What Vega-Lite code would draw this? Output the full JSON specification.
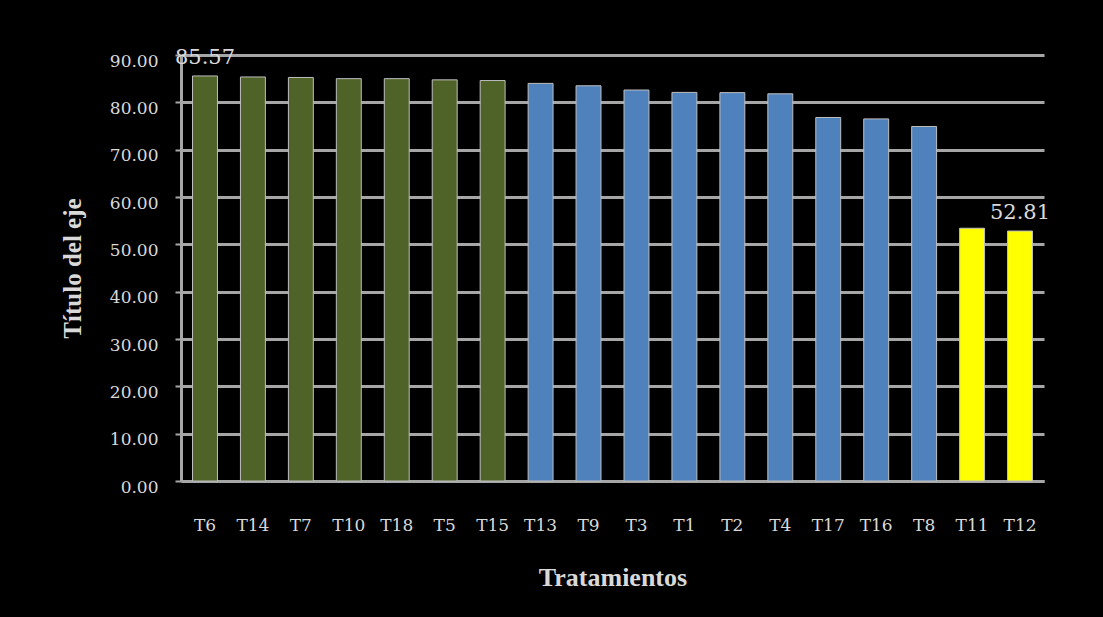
{
  "$schema": "https://vega.github.io/schema/vega-lite/v6.json",
  "autosize": {"type": "none"},
  "width": 863,
  "height": 426,
  "padding": {"left": 181, "top": 55, "right": 59, "bottom": 136},
  "background": "black",
  "config": {
    "view": {"stroke": null},
    "font": "DejaVu Serif"
  },
  "data": {
    "values": [
      {"tratamiento": "T6", "valor": 85.57, "grupo": "a", "etiqueta": "85.57"},
      {"tratamiento": "T14", "valor": 85.36, "grupo": "a", "etiqueta": ""},
      {"tratamiento": "T7", "valor": 85.25, "grupo": "a", "etiqueta": ""},
      {"tratamiento": "T10", "valor": 85.0, "grupo": "a", "etiqueta": ""},
      {"tratamiento": "T18", "valor": 85.0, "grupo": "a", "etiqueta": ""},
      {"tratamiento": "T5", "valor": 84.75, "grupo": "a", "etiqueta": ""},
      {"tratamiento": "T15", "valor": 84.6, "grupo": "a", "etiqueta": ""},
      {"tratamiento": "T13", "valor": 84.0, "grupo": "b", "etiqueta": ""},
      {"tratamiento": "T9", "valor": 83.5, "grupo": "b", "etiqueta": ""},
      {"tratamiento": "T3", "valor": 82.6, "grupo": "b", "etiqueta": ""},
      {"tratamiento": "T1", "valor": 82.1, "grupo": "b", "etiqueta": ""},
      {"tratamiento": "T2", "valor": 82.05, "grupo": "b", "etiqueta": ""},
      {"tratamiento": "T4", "valor": 81.8, "grupo": "b", "etiqueta": ""},
      {"tratamiento": "T17", "valor": 76.8, "grupo": "b", "etiqueta": ""},
      {"tratamiento": "T16", "valor": 76.5, "grupo": "b", "etiqueta": ""},
      {"tratamiento": "T8", "valor": 74.9, "grupo": "b", "etiqueta": ""},
      {"tratamiento": "T11", "valor": 53.4, "grupo": "c", "etiqueta": ""},
      {"tratamiento": "T12", "valor": 52.81, "grupo": "c", "etiqueta": "52.81"}
    ]
  },
  "encoding": {
    "x": {
      "field": "tratamiento",
      "type": "nominal",
      "sort": null,
      "scale": {"paddingInner": 0.48, "paddingOuter": 0.24},
      "axis": {
        "title": "Tratamientos",
        "titleFont": "Liberation Serif",
        "titleFontSize": 26,
        "titleFontWeight": "bold",
        "titleColor": "#d9d9d9",
        "titlePadding": 31,
        "labelFont": "DejaVu Serif",
        "labelFontSize": 17,
        "labelColor": "#d9d9d9",
        "labelAngle": 0,
        "labelPadding": 36,
        "ticks": false,
        "domainColor": "#a6a6a6",
        "domainWidth": 3,
        "grid": false
      }
    },
    "y": {
      "field": "valor",
      "type": "quantitative",
      "scale": {"domain": [0, 90], "nice": false},
      "axis": {
        "title": "Título del eje",
        "titleFont": "Liberation Serif",
        "titleFontSize": 25,
        "titleFontWeight": "bold",
        "titleColor": "#d9d9d9",
        "titlePadding": 24,
        "values": [0, 10, 20, 30, 40, 50, 60, 70, 80, 90],
        "format": ".2f",
        "labelFont": "DejaVu Serif",
        "labelFontSize": 17,
        "labelColor": "#d9d9d9",
        "labelPadding": 17,
        "labelOffset": 6,
        "tickColor": "#a6a6a6",
        "tickSize": 6,
        "tickWidth": 2,
        "domainColor": "#a6a6a6",
        "domainWidth": 3,
        "gridColor": "#a6a6a6",
        "gridWidth": 3
      }
    }
  },
  "layer": [
    {
      "mark": {"type": "bar", "stroke": "#bfbfbf", "strokeWidth": 1},
      "encoding": {
        "color": {
          "field": "grupo",
          "type": "nominal",
          "scale": {"domain": ["a", "b", "c"], "range": ["#4f6228", "#4f81bd", "#ffff00"]},
          "legend": null
        }
      }
    },
    {
      "mark": {"type": "text", "baseline": "bottom", "dy": -8, "fontSize": 21, "color": "#d9d9d9", "font": "DejaVu Serif"},
      "encoding": {
        "text": {"field": "etiqueta"}
      }
    }
  ]
}
